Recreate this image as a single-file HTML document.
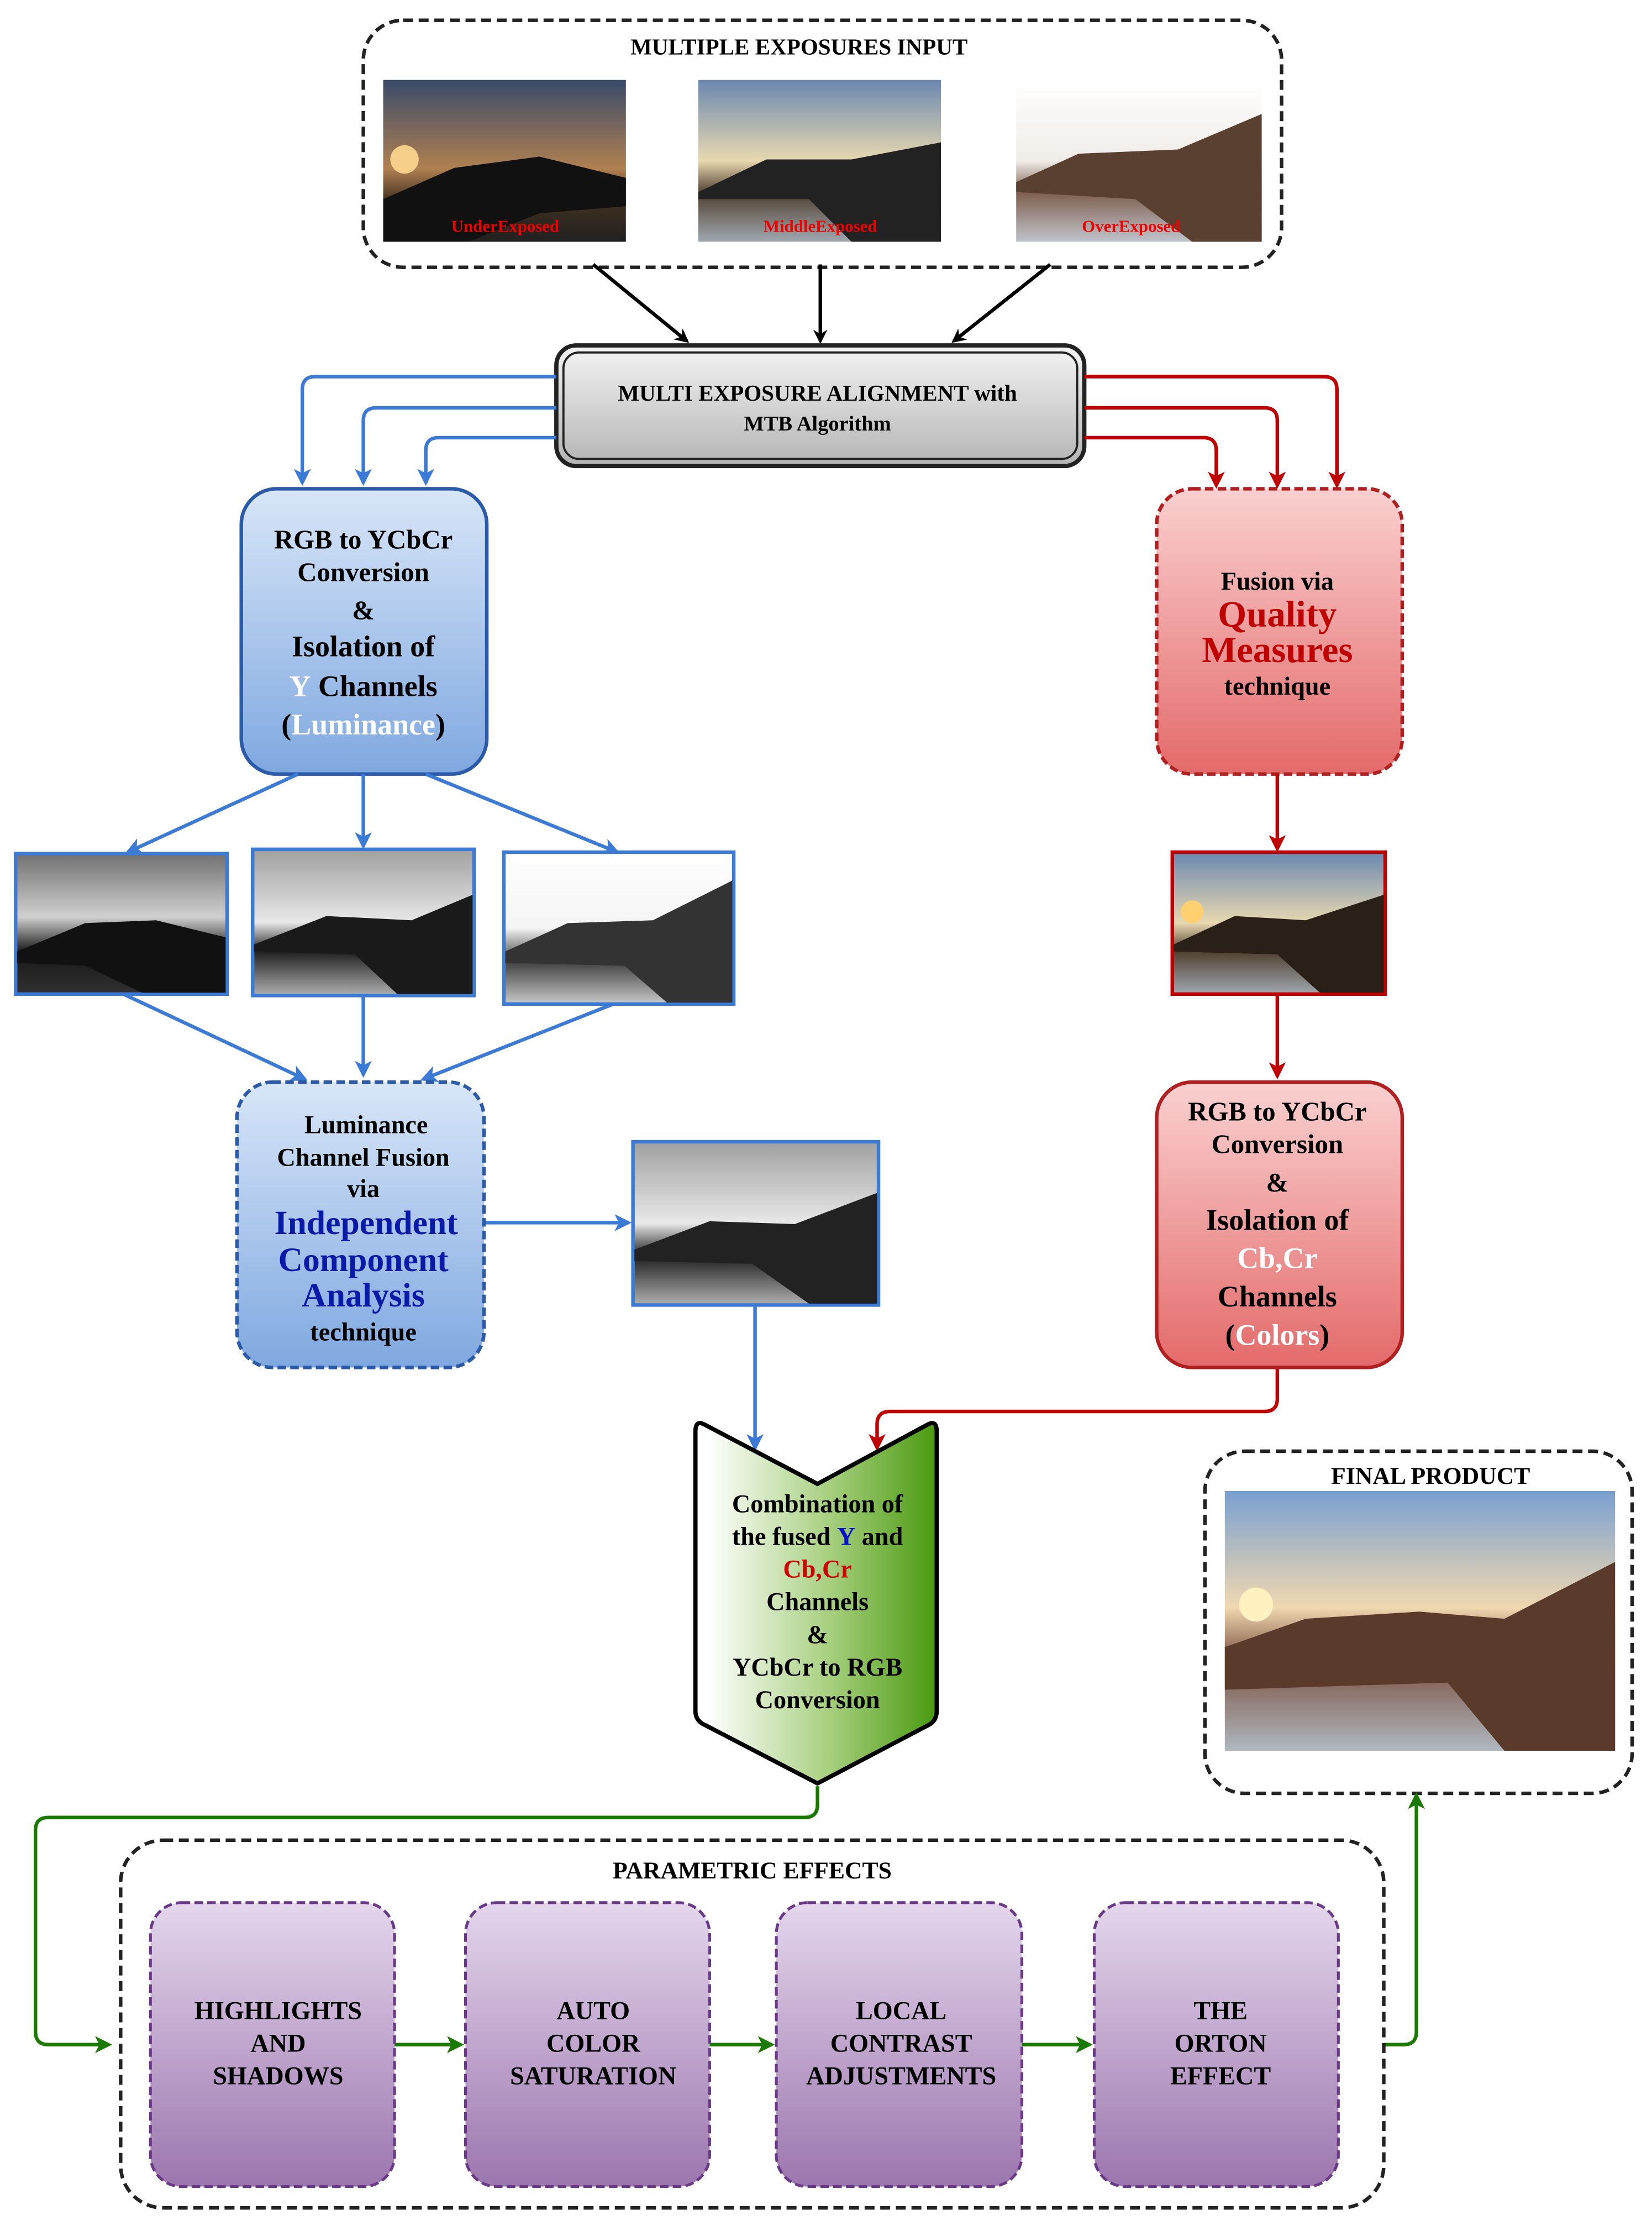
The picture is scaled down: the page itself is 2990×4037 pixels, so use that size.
<!DOCTYPE html>
<html><head><meta charset="utf-8"><style>
html,body{margin:0;padding:0;background:#fff;}
svg{display:block;}
text{font-family:"Liberation Serif",serif;font-weight:bold;text-anchor:middle;}
</style></head><body>
<svg width="2990" height="4037" viewBox="0 0 1164 1571" xmlns="http://www.w3.org/2000/svg">
<defs>
<linearGradient id="sunset" x1="0" y1="0" x2="0" y2="1"><stop offset="0" stop-color="#3a4a6a"/><stop offset="0.55" stop-color="#b08050"/><stop offset="0.75" stop-color="#403020"/><stop offset="1" stop-color="#202020"/></linearGradient>
<linearGradient id="mid" x1="0" y1="0" x2="0" y2="1"><stop offset="0" stop-color="#6a88b0"/><stop offset="0.5" stop-color="#e8d8b0"/><stop offset="0.7" stop-color="#504030"/><stop offset="1" stop-color="#a0a8b0"/></linearGradient>
<linearGradient id="over" x1="0" y1="0" x2="0" y2="1"><stop offset="0" stop-color="#ffffff"/><stop offset="0.5" stop-color="#f0ece8"/><stop offset="0.7" stop-color="#806050"/><stop offset="1" stop-color="#c0c4cc"/></linearGradient>
<linearGradient id="g1" x1="0" y1="0" x2="0" y2="1"><stop offset="0" stop-color="#707070"/><stop offset="0.45" stop-color="#d0d0d0"/><stop offset="0.7" stop-color="#181818"/><stop offset="1" stop-color="#303030"/></linearGradient>
<linearGradient id="g2" x1="0" y1="0" x2="0" y2="1"><stop offset="0" stop-color="#a0a0a0"/><stop offset="0.5" stop-color="#e8e8e8"/><stop offset="0.7" stop-color="#202020"/><stop offset="1" stop-color="#b0b0b0"/></linearGradient>
<linearGradient id="g3" x1="0" y1="0" x2="0" y2="1"><stop offset="0" stop-color="#ffffff"/><stop offset="0.5" stop-color="#f4f4f4"/><stop offset="0.72" stop-color="#404040"/><stop offset="1" stop-color="#c8c8c8"/></linearGradient>
<linearGradient id="fin" x1="0" y1="0" x2="0" y2="1"><stop offset="0" stop-color="#7aa0d0"/><stop offset="0.45" stop-color="#f0d8b0"/><stop offset="0.65" stop-color="#7a5040"/><stop offset="1" stop-color="#b0b8c0"/></linearGradient>
<linearGradient id="gray" x1="0" y1="0" x2="0" y2="1"><stop offset="0" stop-color="#f4f4f4"/><stop offset="1" stop-color="#b4b4b4"/></linearGradient>
<linearGradient id="blue" x1="0" y1="0" x2="0" y2="1"><stop offset="0" stop-color="#d8e6f8"/><stop offset="1" stop-color="#7fa8e0"/></linearGradient>
<linearGradient id="red" x1="0" y1="0" x2="0" y2="1"><stop offset="0" stop-color="#fad0d0"/><stop offset="1" stop-color="#e46a6a"/></linearGradient>
<linearGradient id="purp" x1="0" y1="0" x2="0" y2="1"><stop offset="0" stop-color="#e4d6ec"/><stop offset="1" stop-color="#9c76ae"/></linearGradient>
<linearGradient id="green" x1="0" y1="0" x2="1" y2="0"><stop offset="0.05" stop-color="#ffffff"/><stop offset="0.55" stop-color="#a8d080"/><stop offset="1" stop-color="#4a9a10"/></linearGradient>
<marker id="ak" markerWidth="10" markerHeight="10" refX="8" refY="5" orient="auto" markerUnits="userSpaceOnUse"><path d="M0,0 L10,5 L0,10 L3,5z" fill="#000"/></marker>
<marker id="ab" markerWidth="12" markerHeight="12" refX="10" refY="6" orient="auto" markerUnits="userSpaceOnUse"><path d="M0,0 L12,6 L0,12 L3,6z" fill="#3b7bd6"/></marker>
<marker id="ar" markerWidth="12" markerHeight="12" refX="10" refY="6" orient="auto" markerUnits="userSpaceOnUse"><path d="M0,0 L12,6 L0,12 L3,6z" fill="#c00000"/></marker>
<marker id="ag" markerWidth="12" markerHeight="12" refX="10" refY="6" orient="auto" markerUnits="userSpaceOnUse"><path d="M0,0 L12,6 L0,12 L3,6z" fill="#1a7a00"/></marker>
</defs>

<!-- top box -->
<rect x="256" y="14" width="647" height="174" rx="28" fill="none" stroke="#222" stroke-width="2.5" stroke-dasharray="7,4"/>
<text x="563" y="38" font-size="16">MULTIPLE EXPOSURES INPUT</text>
<rect x="270" y="56" width="171" height="114" fill="url(#sunset)"/>
<path d="M270,140 L320,118 L380,110 L441,125 L441,145 L380,150 L330,170 L270,170z" fill="#111"/>
<circle cx="285" cy="112" r="10" fill="#ffd890" opacity="0.9"/>
<rect x="492" y="56" width="171" height="114" fill="url(#mid)"/>
<path d="M492,135 L540,112 L600,112 L663,100 L663,170 L600,170 L570,140 L492,140z" fill="#222"/>
<rect x="716" y="56" width="173" height="114" fill="url(#over)"/>
<path d="M716,128 L760,108 L830,105 L889,80 L889,170 L840,170 L800,140 L716,135z" fill="#5a4030"/>
<text x="356" y="163" font-size="12" fill="#e00" font-family="Liberation Sans,sans-serif">UnderExposed</text>
<text x="578" y="163" font-size="12" fill="#e00" font-family="Liberation Sans,sans-serif">MiddleExposed</text>
<text x="797" y="163" font-size="12" fill="#e00" font-family="Liberation Sans,sans-serif">OverExposed</text>
<g stroke="#000" stroke-width="2.5" fill="none" marker-end="url(#ak)">
<line x1="418" y1="186" x2="484" y2="240"/><line x1="578" y1="186" x2="578" y2="240"/><line x1="740" y1="186" x2="672" y2="240"/></g>

<!-- alignment -->
<rect x="392" y="243" width="372" height="85" rx="14" fill="url(#gray)" stroke="#222" stroke-width="3"/>
<rect x="397" y="248" width="362" height="75" rx="11" fill="none" stroke="#222" stroke-width="1.5"/>
<text x="576" y="282" font-size="16">MULTI EXPOSURE ALIGNMENT  with</text>
<text x="576" y="303" font-size="15">MTB Algorithm</text>

<g stroke="#3b7bd6" stroke-width="2.5" fill="none" marker-end="url(#ab)">
<path d="M392,265 H222 Q213,265 213,274 V340"/>
<path d="M392,287 H265 Q256,287 256,296 V340"/>
<path d="M392,308 H309 Q300,308 300,317 V340"/>
</g>
<g stroke="#c00000" stroke-width="2.5" fill="none" marker-end="url(#ar)">
<path d="M764,265 H933 Q942,265 942,274 V342"/>
<path d="M764,287 H891 Q900,287 900,296 V342"/>
<path d="M764,308 H848 Q857,308 857,317 V342"/>
</g>

<!-- blue box -->
<rect x="170" y="344" width="173" height="201" rx="25" fill="url(#blue)" stroke="#2a5aa8" stroke-width="2.5"/>
<g font-size="19"><text x="256" y="386">RGB to YCbCr</text><text x="256" y="409">Conversion</text><text x="256" y="436">&amp;</text>
<text x="256" y="462" font-size="21">Isolation of</text>
<text x="256" y="490" font-size="21"><tspan fill="#fff">Y</tspan> Channels</text>
<text x="256" y="517" font-size="21">(<tspan fill="#fff">Luminance</tspan>)</text></g>

<!-- red box -->
<rect x="815" y="344" width="173" height="201" rx="25" fill="url(#red)" stroke="#b02020" stroke-width="2.5" stroke-dasharray="6,3"/>
<text x="900" y="415" font-size="18">Fusion via</text>
<text x="900" y="441" font-size="26" fill="#c00000">Quality</text>
<text x="900" y="466" font-size="26" fill="#c00000">Measures</text>
<text x="900" y="489" font-size="18">technique</text>

<g stroke="#3b7bd6" stroke-width="2.5" fill="none" marker-end="url(#ab)">
<line x1="210" y1="545" x2="90" y2="600"/><line x1="256" y1="545" x2="256" y2="596"/><line x1="300" y1="545" x2="435" y2="600"/>
<line x1="87" y1="700" x2="215" y2="760"/><line x1="256" y1="701" x2="256" y2="757"/><line x1="432" y1="707" x2="298" y2="760"/>
<line x1="341" y1="861" x2="443" y2="861"/><line x1="532" y1="919" x2="532" y2="1020"/>
</g>
<rect x="11" y="601" width="149" height="99" fill="url(#g1)" stroke="#3b7bd6" stroke-width="2.5"/>
<path d="M12,670 L60,650 L110,648 L159,660 L159,699 L100,699 L60,680 L12,678z" fill="#111"/>
<rect x="178" y="598" width="156" height="103" fill="url(#g2)" stroke="#3b7bd6" stroke-width="2.5"/>
<path d="M179,665 L230,645 L290,648 L333,630 L333,700 L280,700 L250,672 L179,670z" fill="#1a1a1a"/>
<rect x="355" y="600" width="162" height="107" fill="url(#g3)" stroke="#3b7bd6" stroke-width="2.5"/>
<path d="M356,670 L400,650 L460,648 L516,620 L516,706 L470,706 L440,680 L356,678z" fill="#333"/>

<!-- luminance box -->
<rect x="167" y="762" width="174" height="201" rx="25" fill="url(#blue)" stroke="#2a5aa8" stroke-width="2.5" stroke-dasharray="6,3"/>
<text x="258" y="798" font-size="18">Luminance</text><text x="256" y="821" font-size="18">Channel Fusion</text>
<text x="256" y="843" font-size="18">via</text>
<g font-size="24" fill="#0a1aa8"><text x="258" y="869">Independent</text><text x="256" y="895">Component</text><text x="256" y="920">Analysis</text></g>
<text x="256" y="944" font-size="18">technique</text>

<rect x="446" y="804" width="173" height="115" fill="url(#g2)" stroke="#3b7bd6" stroke-width="2.5"/>
<path d="M447,880 L500,860 L560,862 L618,840 L618,918 L570,918 L530,890 L447,888z" fill="#222"/>

<!-- red chain -->
<g stroke="#c00000" stroke-width="2.5" fill="none" marker-end="url(#ar)">
<line x1="900" y1="545" x2="900" y2="598"/><line x1="900" y1="700" x2="900" y2="758"/>
<path d="M900,963 V985 Q900,994 891,994 H627 Q618,994 618,1003 V1020"/>
</g>
<rect x="826" y="600" width="150" height="100" fill="url(#mid)" stroke="#c00000" stroke-width="2.5"/>
<path d="M827,665 L870,645 L920,648 L975,630 L975,699 L930,699 L900,672 L827,670z" fill="#2a2018"/>
<circle cx="840" cy="642" r="8" fill="#ffd070"/>

<rect x="815" y="762" width="173" height="201" rx="25" fill="url(#red)" stroke="#b02020" stroke-width="2.5"/>
<g font-size="19"><text x="900" y="789">RGB to YCbCr</text><text x="900" y="812">Conversion</text><text x="900" y="839">&amp;</text>
<text x="900" y="866" font-size="21">Isolation of</text>
<text x="900" y="893" font-size="21" fill="#fff">Cb,Cr</text>
<text x="900" y="920" font-size="21">Channels</text>
<text x="900" y="947" font-size="21">(<tspan fill="#fff">Colors</tspan>)</text></g>

<!-- chevron -->
<path d="M496,1003 L576,1045 L654,1003 Q660,1000 660,1008 V1205 Q660,1212 654,1215 L576,1256 L497,1215 Q490,1212 490,1205 V1008 Q490,1000 496,1003z" fill="url(#green)" stroke="#000" stroke-width="3"/>
<g font-size="18"><text x="576" y="1065">Combination of</text>
<text x="576" y="1088">the fused <tspan fill="#0010d0">Y</tspan> and</text>
<text x="576" y="1111" fill="#d00000">Cb,Cr</text>
<text x="576" y="1134">Channels</text><text x="576" y="1157">&amp;</text>
<text x="576" y="1180">YCbCr to RGB</text><text x="576" y="1203">Conversion</text></g>

<!-- final product -->
<rect x="849" y="1022" width="301" height="241" rx="28" fill="none" stroke="#222" stroke-width="2.5" stroke-dasharray="7,4"/>
<text x="1008" y="1045" font-size="17">FINAL PRODUCT</text>
<rect x="863" y="1050" width="275" height="183" fill="url(#fin)"/>
<path d="M863,1160 L920,1140 L1000,1135 L1060,1140 L1138,1100 L1138,1233 L1060,1233 L1020,1185 L863,1190z" fill="#5a3a2a"/>
<circle cx="885" cy="1130" r="12" fill="#fff2c0"/>

<!-- green connectors -->
<g stroke="#1a7a00" stroke-width="2.5" fill="none" marker-end="url(#ag)">
<path d="M576,1258 V1271 Q576,1280 567,1280 H34 Q25,1280 25,1289 V1431 Q25,1440 34,1440 H77"/>
<line x1="278" y1="1440" x2="325" y2="1440"/><line x1="500" y1="1440" x2="544" y2="1440"/><line x1="720" y1="1440" x2="768" y2="1440"/>
<path d="M975,1440 H989 Q998,1440 998,1431 V1264"/>
</g>

<!-- parametric -->
<rect x="85" y="1296" width="890" height="259" rx="30" fill="none" stroke="#222" stroke-width="2.5" stroke-dasharray="7,4"/>
<text x="530" y="1323" font-size="17">PARAMETRIC EFFECTS</text>
<g fill="url(#purp)" stroke="#6a3a88" stroke-width="2" stroke-dasharray="6,3">
<rect x="106" y="1340" width="172" height="200" rx="22"/><rect x="328" y="1340" width="172" height="200" rx="22"/>
<rect x="547" y="1340" width="173" height="200" rx="22"/><rect x="771" y="1340" width="172" height="200" rx="22"/></g>
<g font-size="18">
<text x="196" y="1422">HIGHLIGHTS</text><text x="196" y="1445">AND</text><text x="196" y="1468">SHADOWS</text>
<text x="418" y="1422">AUTO</text><text x="418" y="1445">COLOR</text><text x="418" y="1468">SATURATION</text>
<text x="635" y="1422">LOCAL</text><text x="635" y="1445">CONTRAST</text><text x="635" y="1468">ADJUSTMENTS</text>
<text x="860" y="1422">THE</text><text x="860" y="1445">ORTON</text><text x="860" y="1468">EFFECT</text></g>
</svg>
</body></html>
